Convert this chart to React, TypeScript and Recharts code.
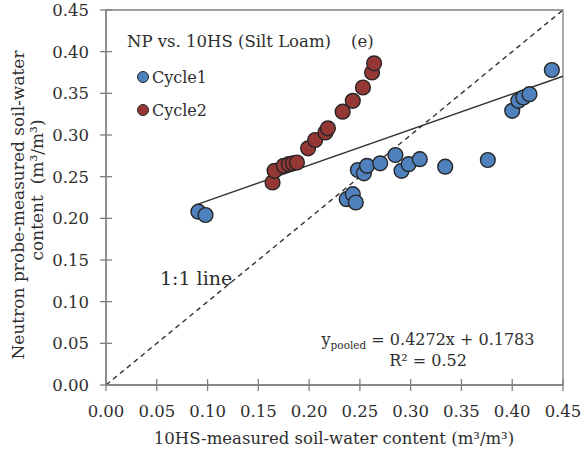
import { ScatterChart, Scatter, XAxis, YAxis, ReferenceLine, ReferenceArea } from "recharts";

// 10HS-measured (x) vs neutron probe-measured (y) soil-water content, m3/m3
const cycle1 = [
  { x: 0.091, y: 0.208 },
  { x: 0.098, y: 0.204 },
  { x: 0.237, y: 0.223 },
  { x: 0.243, y: 0.229 },
  { x: 0.246, y: 0.219 },
  { x: 0.248, y: 0.258 },
  { x: 0.254, y: 0.254 },
  { x: 0.257, y: 0.263 },
  { x: 0.27, y: 0.266 },
  { x: 0.285, y: 0.276 },
  { x: 0.291, y: 0.257 },
  { x: 0.298, y: 0.265 },
  { x: 0.309, y: 0.271 },
  { x: 0.334, y: 0.262 },
  { x: 0.376, y: 0.27 },
  { x: 0.4, y: 0.329 },
  { x: 0.406, y: 0.341 },
  { x: 0.411, y: 0.345 },
  { x: 0.417, y: 0.349 },
  { x: 0.439, y: 0.378 },
];

const cycle2 = [
  { x: 0.164, y: 0.243 },
  { x: 0.166, y: 0.257 },
  { x: 0.175, y: 0.263 },
  { x: 0.18, y: 0.265 },
  { x: 0.184, y: 0.266 },
  { x: 0.188, y: 0.267 },
  { x: 0.199, y: 0.284 },
  { x: 0.206, y: 0.294 },
  { x: 0.216, y: 0.303 },
  { x: 0.2185, y: 0.308 },
  { x: 0.233, y: 0.328 },
  { x: 0.243, y: 0.341 },
  { x: 0.253, y: 0.357 },
  { x: 0.262, y: 0.375 },
  { x: 0.264, y: 0.386 },
];

const axisTicks = [0, 0.05, 0.1, 0.15, 0.2, 0.25, 0.3, 0.35, 0.4, 0.45];

// pooled regression: y = 0.4272x + 0.1783
const slope = 0.4272;
const intercept = 0.1783;
const fitRange = [0.09, 0.45];
const oneToOne = [0, 0.45];

const FONT = "'DejaVu Serif', serif";
const TEXT = "#2e2e2e";
const AXIS = "#808080";
const GAP = 4;

const XTick = (props: any) => {
  const { x, y, payload } = props;
  const axisY = y - GAP;
  return (
    <g>
      <line x1={x} x2={x} y1={axisY - 6} y2={axisY + 6} stroke={AXIS} strokeWidth={1.3} />
      <text x={x} y={axisY + 32} textAnchor="middle" fill={TEXT} fontSize={16.5} fontFamily={FONT}>
        {payload.value.toFixed(2)}
      </text>
    </g>
  );
};

const YTick = (props: any) => {
  const { x, y, payload } = props;
  const axisX = x + GAP;
  return (
    <g>
      <line x1={axisX - 6} x2={axisX + 6} y1={y} y2={y} stroke={AXIS} strokeWidth={1.3} />
      <text x={axisX - 17} y={y + 6} textAnchor="end" fill={TEXT} fontSize={16.5} fontFamily={FONT}>
        {payload.value.toFixed(2)}
      </text>
    </g>
  );
};

const dot = (fill: string) => (props: any) => (
  <circle cx={props.cx} cy={props.cy} r={7.4} fill={fill} stroke="#262626" strokeWidth={1.4} />
);

export default function App() {
  return (
    <div style={{ position: "absolute", left: 0, top: 0, width: 584, height: 449, background: "#fff" }}>
      <ScatterChart width={584} height={449} margin={{ top: 10, right: 21, left: 0, bottom: 0 }}>
        <XAxis
          type="number"
          dataKey="x"
          domain={[0, 0.45]}
          ticks={axisTicks}
          interval={0}
          allowDataOverflow
          height={64}
          stroke={AXIS}
          strokeWidth={1.3}
          tickLine={false}
          tickSize={0}
          tickMargin={GAP}
          tick={<XTick />}
        />
        <YAxis
          type="number"
          dataKey="y"
          domain={[0, 0.45]}
          ticks={axisTicks}
          interval={0}
          allowDataOverflow
          width={106}
          stroke={AXIS}
          strokeWidth={1.3}
          tickLine={false}
          tickSize={0}
          tickMargin={GAP}
          tick={<YTick />}
        />
        <ReferenceArea x1={0} x2={0.45} y1={0} y2={0.45} fill="none" stroke={AXIS} strokeWidth={1.3} />
        <ReferenceLine
          segment={[
            { x: oneToOne[0], y: oneToOne[0] },
            { x: oneToOne[1], y: oneToOne[1] },
          ]}
          stroke="#333"
          strokeWidth={1.4}
          strokeDasharray="5 4"
        />
        <ReferenceLine
          segment={[
            { x: fitRange[0], y: slope * fitRange[0] + intercept },
            { x: fitRange[1], y: slope * fitRange[1] + intercept },
          ]}
          stroke="#333"
          strokeWidth={1.4}
        />
        <Scatter name="Cycle1" data={cycle1} shape={dot("#4f81bd")} isAnimationActive={false} />
        <Scatter name="Cycle2" data={cycle2} shape={dot("#953735")} isAnimationActive={false} />
      </ScatterChart>

      <svg
        width={584}
        height={449}
        style={{ position: "absolute", left: 0, top: 0, pointerEvents: "none" }}
        fontFamily={FONT}
        fill={TEXT}
      >
        <text x={127} y={47} fontSize={16.5}>NP vs. 10HS (Silt Loam)</text>
        <text x={351} y={47} fontSize={16.5}>(e)</text>

        <circle cx={143} cy={77} r={5.5} fill="#4f81bd" stroke="#262626" strokeWidth={1} />
        <text x={152} y={83} fontSize={16}>Cycle1</text>
        <circle cx={143} cy={110} r={5.5} fill="#953735" stroke="#262626" strokeWidth={1} />
        <text x={152} y={116} fontSize={16}>Cycle2</text>

        <text x={160} y={285} fontSize={19}>1:1 line</text>

        <text x={428} y={345} fontSize={16} textAnchor="middle">
          y<tspan fontSize={10.5} dy={4}>pooled</tspan>
          <tspan dy={-4}> = 0.4272x + 0.1783</tspan>
        </text>
        <text x={428} y={366} fontSize={16} textAnchor="middle">R² = 0.52</text>

        <text x={334} y={444} fontSize={16.5} textAnchor="middle">
          10HS-measured soil-water content (m³/m³)
        </text>
        <text x={24} y={205} fontSize={17} textAnchor="middle" transform="rotate(-90, 24, 205)">
          Neutron probe-measured soil-water
        </text>
        <text x={43} y={190} fontSize={17} textAnchor="middle" transform="rotate(-90, 43, 190)">
          {"content\u00a0\u00a0(m³/m³)"}
        </text>
      </svg>
    </div>
  );
}
